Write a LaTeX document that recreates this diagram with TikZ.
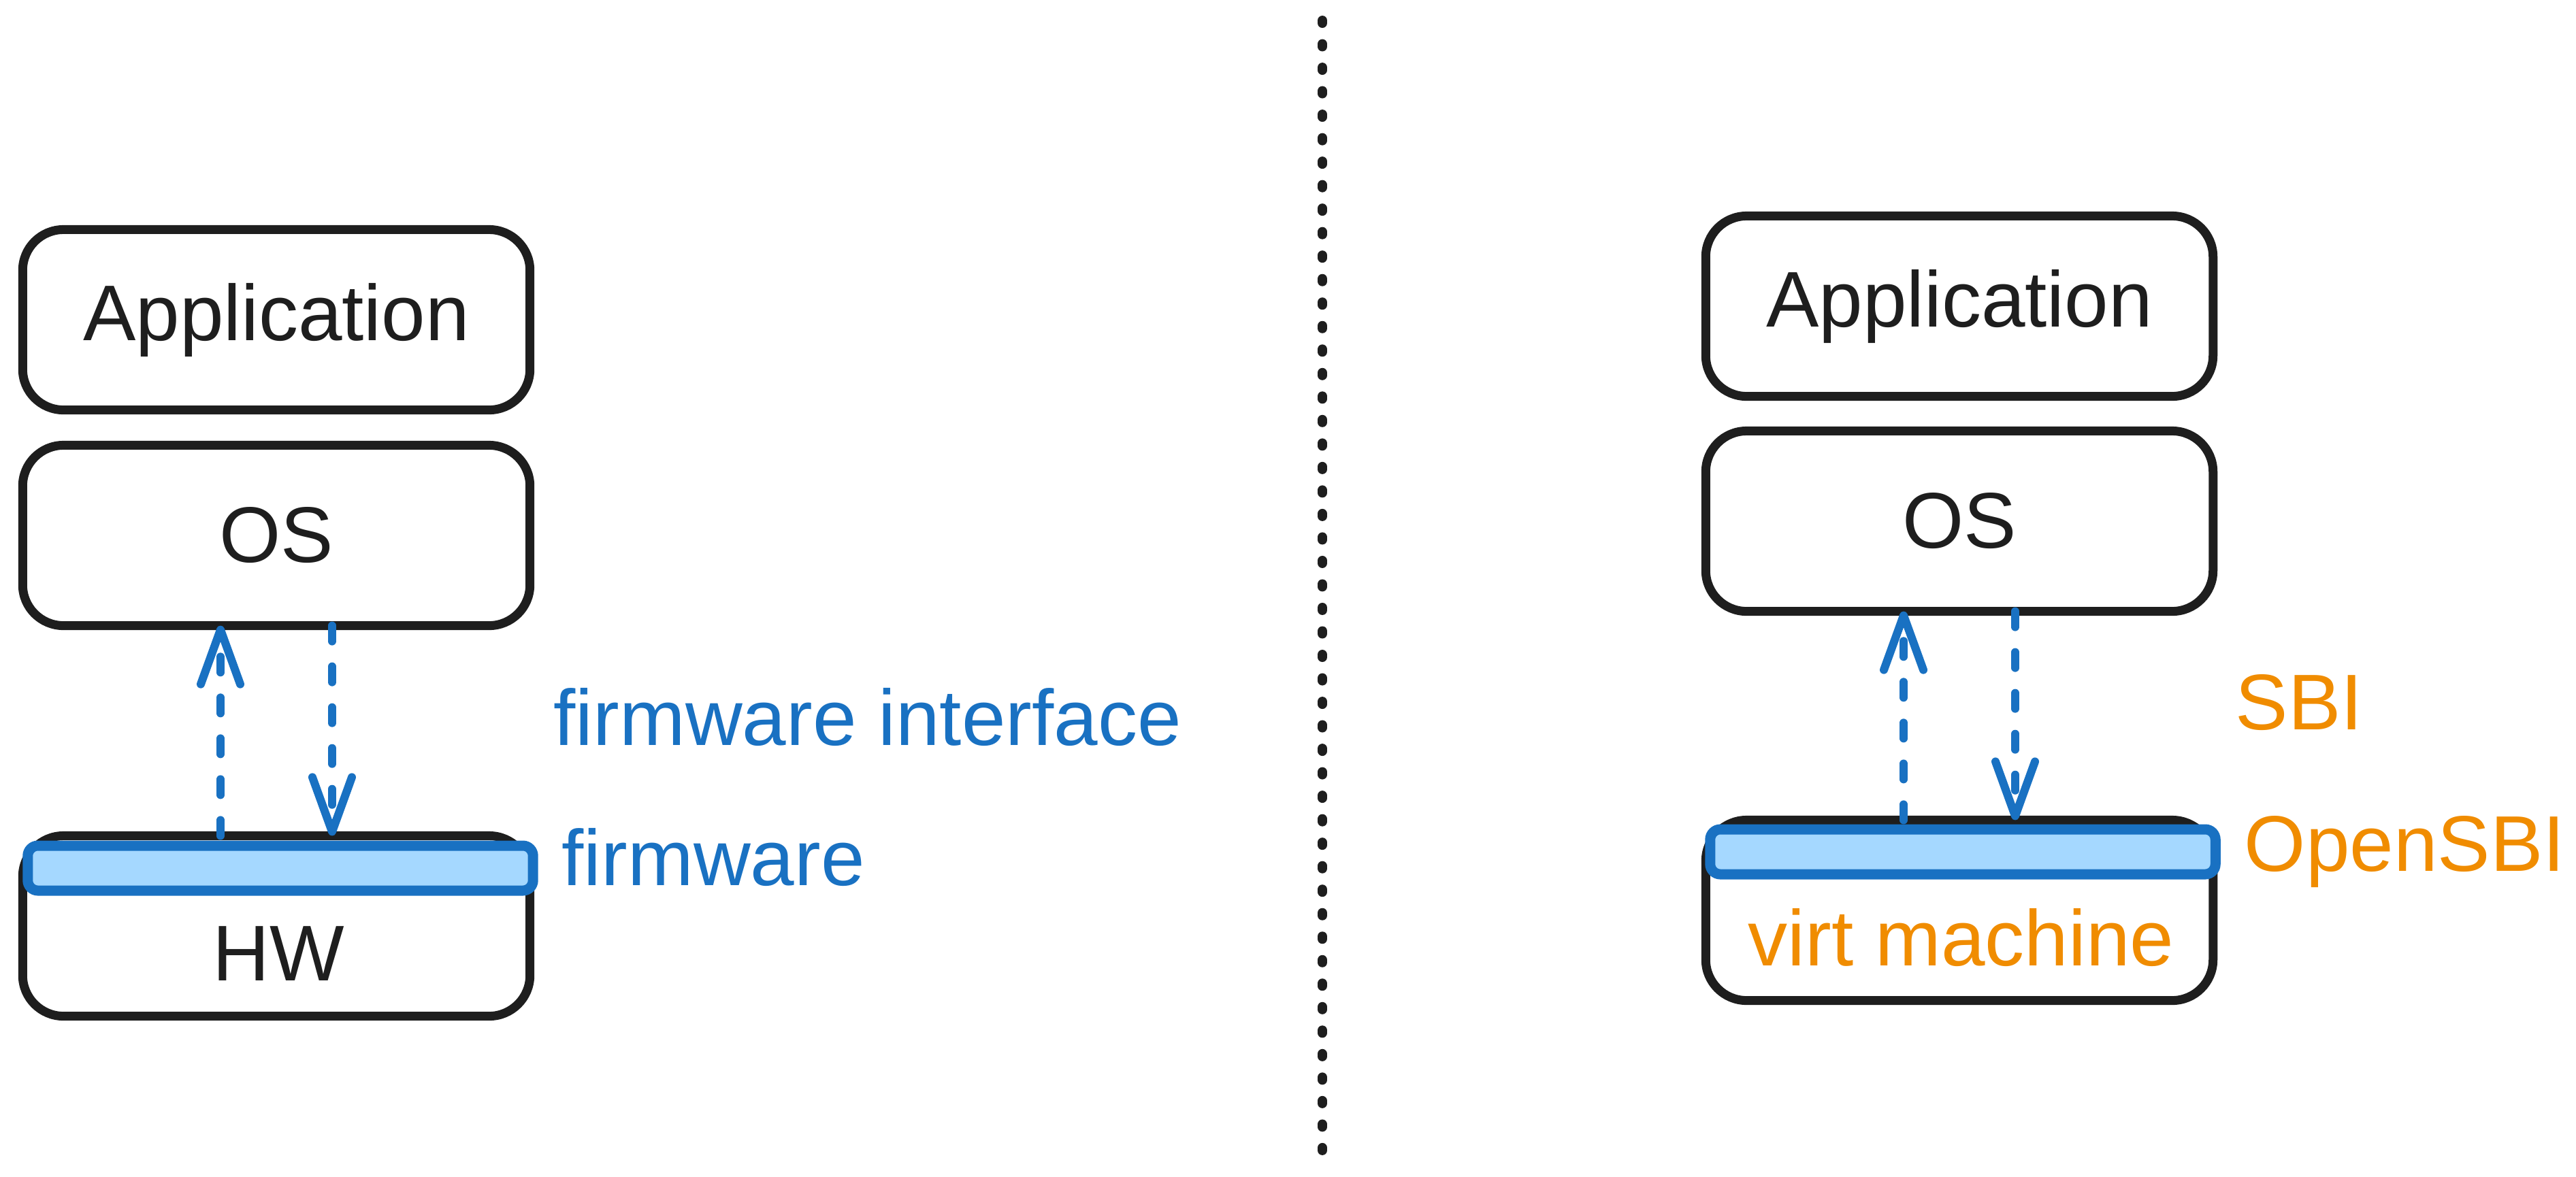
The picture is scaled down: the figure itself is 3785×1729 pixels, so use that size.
\documentclass[tikz,border=0pt]{standalone}
\usepackage{fontspec}
\setmainfont{Liberation Sans}
\usetikzlibrary{arrows.meta,calc}
\definecolor{ink}{HTML}{1E1E1E}
\definecolor{fwblue}{HTML}{1971C2}
\definecolor{fwfill}{HTML}{A5D8FF}
\definecolor{sbiorange}{HTML}{F08C00}
\tikzset{
  layer/.style={draw=ink, line width=0.13cm, rounded corners=0.6cm, fill=white,
    minimum width=7.45cm, minimum height=2.65cm, outer sep=0pt,
    text=ink, font=\fontsize{33}{40}\selectfont},
  fwbar/.style={draw=fwblue, fill=fwfill, line width=0.15cm, rounded corners=0.15cm,
    minimum width=7.42cm, minimum height=0.66cm, inner sep=0pt, outer sep=0pt},
  call/.style={draw=fwblue, line width=0.12cm, line cap=round,
    dash pattern=on 0.23cm off 0.37cm,
    -{Straight Barb[length=0.8cm,width=0.58cm,round]}},
  lbl/.style={font=\fontsize{33}{40}\selectfont, inner sep=0pt, anchor=base west},
  divider/.style={draw=ink, line width=0.14cm, line cap=round,
    dash pattern=on 0.04cm off 0.305cm},
}

\begin{document}
\begin{tikzpicture}[x=0.01cm, y=-0.01cm]
%\draw[step=100,lightgray,very thin] (0,0) grid (3785,1729);
\useasboundingbox (0,0) rectangle (3785,1729);
% firmware side
\node[layer] (appL) at (406,470) {Application};
\node[layer] (osL) at (406,787) {OS};
\node[layer] (hwL) at (406,1361) {};
\node[fwbar] (barL) at (412,1276) {};
\node[text=ink, font=\fontsize{33}{40}\selectfont] (hwTxtL) at ($(barL.south)!0.5!(hwL.south)$) {HW};
\draw[call] ($(hwL.north west)!0.39!(hwL.north east)$) -- ($(osL.south west)!0.39!(osL.south east)$);
\draw[call] ($(osL.south west)!0.61!(osL.south east)$) -- ($(hwL.north west)!0.61!(hwL.north east)$);
\node[lbl, text=fwblue] (fwIfLbl) at (813,1095) {firmware interface};
\node[lbl, text=fwblue] (fwLbl) at (825,1301) {firmware};

\draw[divider] (1943,30) -- (1943,1695);

% OpenSBI side
\node[layer] (appR) at (2879,450) {Application};
\node[layer] (osR) at (2879,766) {OS};
\node[layer] (vmR) at (2879,1338) {};
\node[fwbar] (barR) at (2884,1252) {};
\node[text=sbiorange, font=\fontsize{33}{40}\selectfont] (vmTxtR) at ($(barR.south)!0.5!(vmR.south)$) {virt machine};
\draw[call] ($(vmR.north west)!0.39!(vmR.north east)$) -- ($(osR.south west)!0.39!(osR.south east)$);
\draw[call] ($(osR.south west)!0.61!(osR.south east)$) -- ($(vmR.north west)!0.61!(vmR.north east)$);
\node[lbl, text=sbiorange] (sbiLbl) at (3284,1072) {SBI};
\node[lbl, text=sbiorange] (osbiLbl) at (3297,1280) {OpenSBI};
\end{tikzpicture}
\end{document}
